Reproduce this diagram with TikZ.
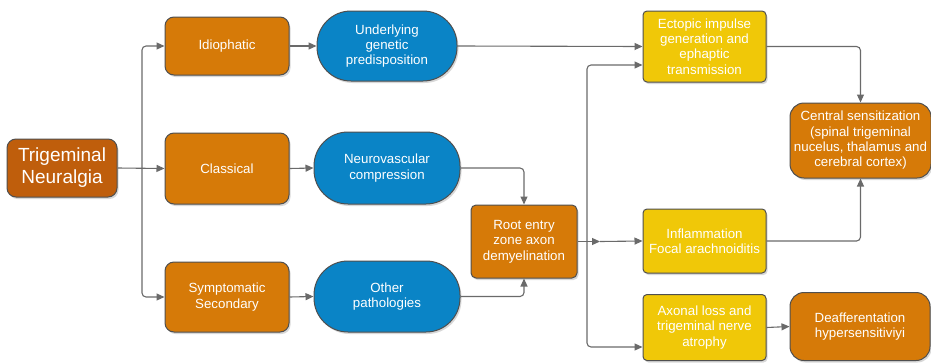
\documentclass[tikz,border=0pt]{standalone}
\usepackage{fontspec}
\setmainfont{Liberation Sans}
\usetikzlibrary{arrows.meta,shadows,calc}
\definecolor{orng}{HTML}{D67A08}
\definecolor{dorng}{HTML}{BF5E0C}
\definecolor{blu}{HTML}{0A84C6}
\definecolor{yel}{HTML}{F0C808}
\definecolor{edgec}{HTML}{4F4F4F}
\definecolor{lnc}{HTML}{6A6A6A}
\begin{document}
\begin{tikzpicture}[x=1pt,y=-1pt,
  base/.style={draw=edgec, line width=1pt, text=white, align=center,
    font=\fontsize{13.3}{15.3}\selectfont, inner sep=1pt,
    drop shadow={opacity=0.3,shadow xshift=1.5pt,shadow yshift=-2pt}},
  obox/.style={base, fill=orng, rounded corners=9pt},
  bigbox/.style={base, fill=orng, rounded corners=14pt},
  bbox/.style={base, fill=blu, rounded corners=34pt},
  ybox/.style={base, fill=yel, rounded corners=4pt},
  arr/.style={draw=lnc, line width=1.1pt, -{Triangle[length=8pt,width=7pt]}},
  ln/.style={draw=lnc, line width=1.1pt},
  rc/.style={rounded corners=4pt}
]
\path[fill=white] (0,0) rectangle (931,362);
\useasboundingbox (0,0) rectangle (931,362);

\node[base, fill=dorng, rounded corners=9pt, minimum width=110pt, minimum height=58pt,
  font=\fontsize{19}{22}\selectfont] (trig) at (62,168) {Trigeminal\\Neuralgia};

\node[obox, minimum width=124pt, minimum height=58pt] (idio) at (227,46) {Idiophatic};
\node[obox, minimum width=124pt, minimum height=71pt] (clas) at (227,168.5) {Classical};
\node[obox, minimum width=124pt, minimum height=70pt] (symp) at (227,297) {Symptomatic\\Secondary};

\node[bbox, minimum width=140pt, minimum height=70pt] (und) at (387,46) {Underlying\\genetic\\predisposition};
\node[bbox, minimum width=146pt, minimum height=72pt] (neur) at (387,168) {Neurovascular\\compression};
\node[bbox, minimum width=146pt, minimum height=71pt] (oth) at (387,296.5) {Other\\pathologies};

\node[obox, minimum width=106pt, minimum height=73pt, rounded corners=5pt] (root) at (524,241.5) {Root entry\\zone axon\\demyelination};

\node[ybox, minimum width=123pt, minimum height=71pt] (ect) at (704.5,46.5) {Ectopic impulse\\generation and\\ephaptic\\transmission};
\node[ybox, minimum width=123pt, minimum height=64pt] (infl) at (704.5,241) {Inflammation\\Focal arachnoiditis};
\node[ybox, minimum width=123pt, minimum height=66pt] (axon) at (704.5,327.5) {Axonal loss and\\trigeminal nerve\\atrophy};

\node[bigbox, minimum width=141pt, minimum height=75pt] (cent) at (860.5,140.5) {Central sensitization\\(spinal trigeminal\\nucelus, thalamus and\\cerebral cortex)};
\node[bigbox, minimum width=140pt, minimum height=68pt] (deaf) at (860,326.5) {Deafferentation\\hypersensitiviyi};

% connectors
\coordinate (sp) at (142,168);
\draw[arr] (trig.east) -- (clas.west);
\draw[arr, rc] (sp) |- (idio.west);
\draw[arr, rc] (sp) |- (symp.west);

\draw[arr] (idio.east) -- (und.west);
\draw[arr] (clas.east) -- (neur.west);
\draw[arr] (symp.east) -- (oth.west);

\draw[arr] (und.east) -- (ect.west);
\draw[arr, rc] (neur.east) -| (root.north);
\draw[arr, rc] (oth.east) -| (root.south);

\coordinate (vx) at (587,241.5);
\coordinate (j) at (600,241.5);
\draw[arr] (root.east) -- (j);
\draw[arr] (j) -- (infl.west);
\draw[arr, rc] (vx) |- ([yshift=-18.5pt]ect.west);
\draw[arr, rc] (vx) |- ([yshift=-19.5pt]axon.west);

\draw[arr, rc] (ect.east) -| (cent.north);
\draw[arr, rc] (infl.east) -| (cent.south);
\draw[arr] (axon.east) -- (deaf.west);
\end{tikzpicture}
\end{document}
